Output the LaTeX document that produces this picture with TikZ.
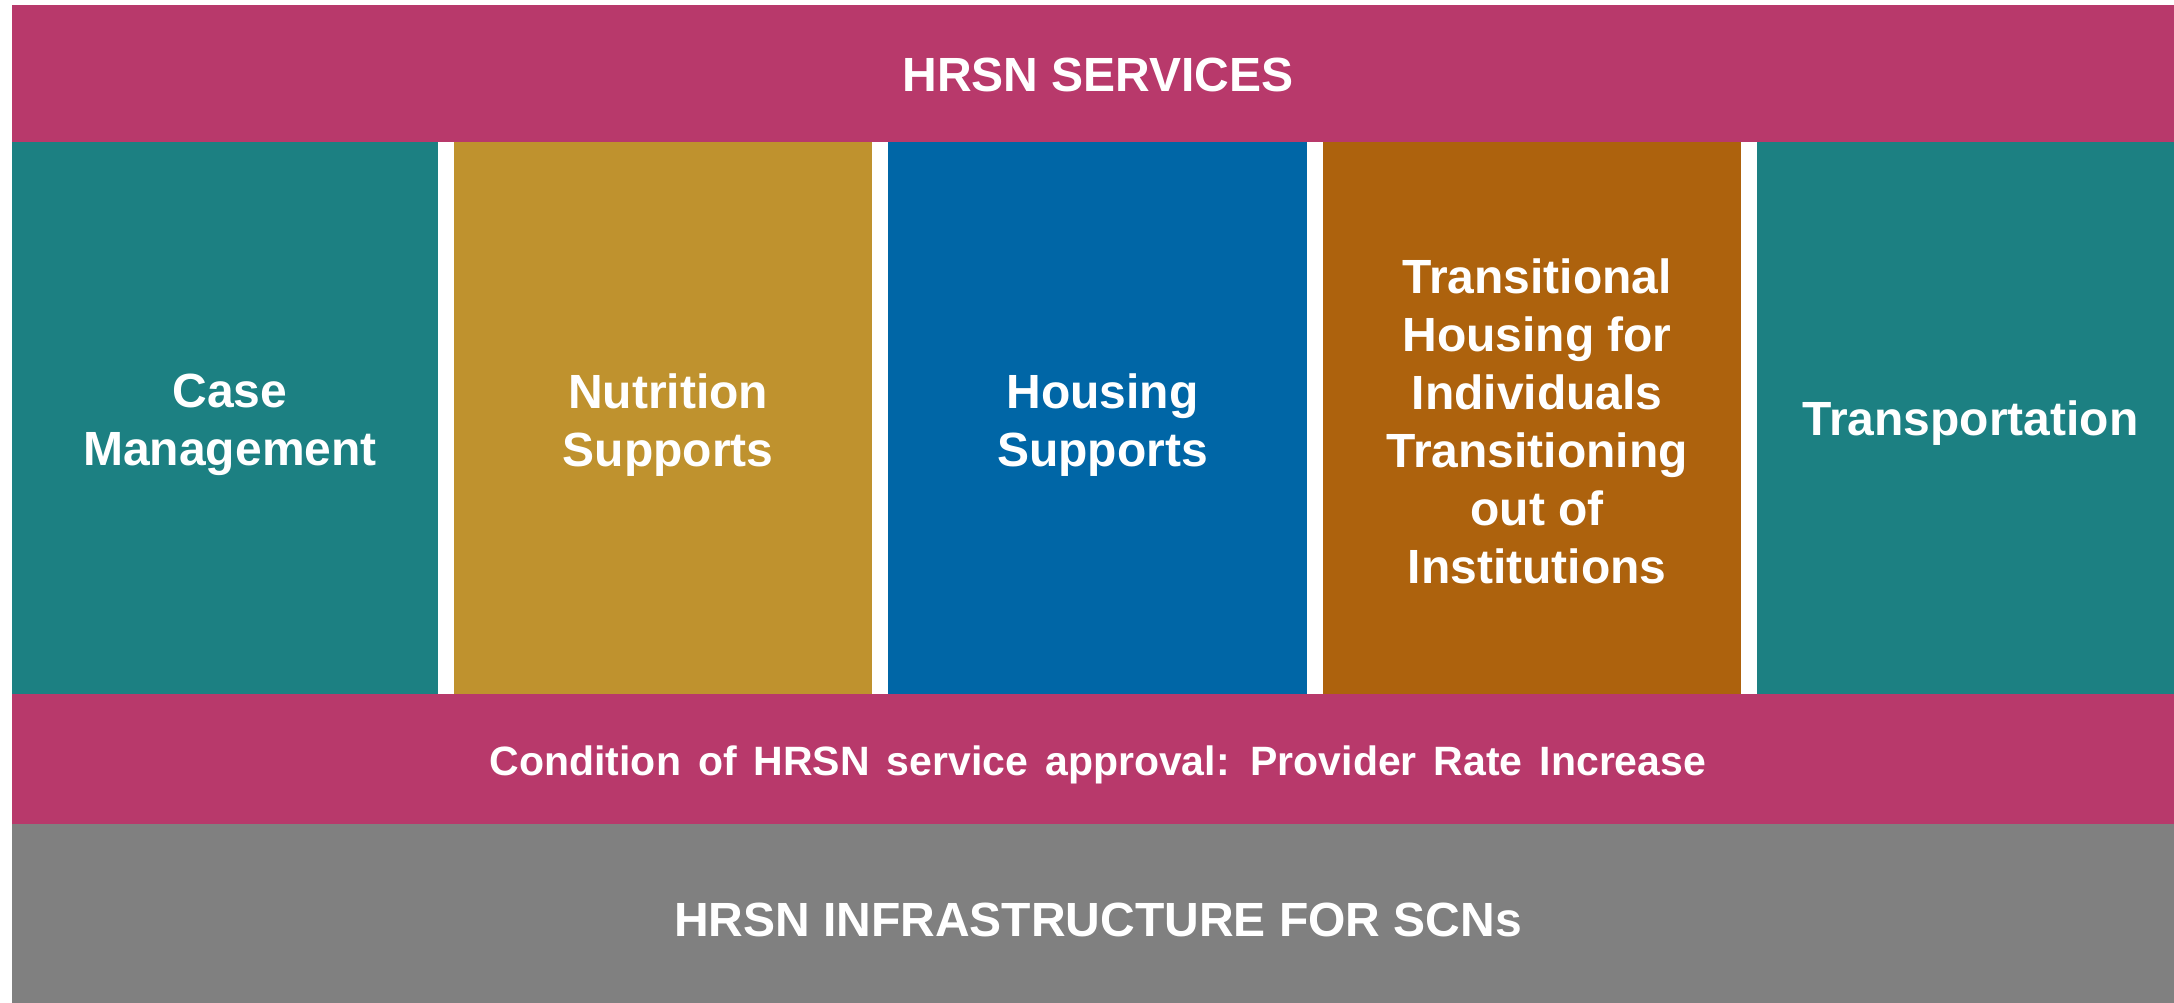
\documentclass[tikz,border=0pt]{standalone}
\usepackage{fontspec}
\setmainfont{Liberation Sans}
\definecolor{hpink}{HTML}{B8396B}
\definecolor{hteal}{HTML}{1C8082}
\definecolor{hgold}{HTML}{BF922E}
\definecolor{hblue}{HTML}{0066A6}
\definecolor{horange}{HTML}{AD620D}
\definecolor{hgray}{HTML}{808080}
\tikzset{
  band/.style={anchor=north west, inner sep=0pt, outer sep=0pt},
  colbox/.style={band, minimum height=552pt},
  lbl/.style={inner sep=0pt, xshift=5pt, text=white, font=\bfseries\fontsize{48}{58}\selectfont, align=center}
}
\begin{document}
\begin{tikzpicture}[x=1pt,y=-1pt]
\useasboundingbox (0,0) rectangle (2174,1003);
\fill[white] (0,0) rectangle (2174,1003);
\node[band, fill=hpink, minimum width=2162pt, minimum height=137pt] (top) at (12,5) {};
\node[colbox, fill=hteal, minimum width=426pt] (c1) at (12,142) {};
\node[colbox, fill=hgold, minimum width=418pt] (c2) at (454,142) {};
\node[colbox, fill=hblue, minimum width=419pt] (c3) at (888,142) {};
\node[colbox, fill=horange, minimum width=418pt] (c4) at (1323,142) {};
\node[colbox, fill=hteal, minimum width=417pt] (c5) at (1757,142) {};
\node[band, fill=hpink, minimum width=2162pt, minimum height=130pt] (mid) at (12,694) {};
\node[band, fill=hgray, minimum width=2162pt, minimum height=179pt] (bot) at (12,824) {};
\node[lbl, yshift=-1pt] (topt) at (top.center) {HRSN SERVICES};
\node[lbl, yshift=-7pt] (c1t) at (c1.center) {Case\\Management};
\node[lbl, yshift=-7pt] (c2t) at (c2.center) {Nutrition\\Supports};
\node[lbl, yshift=-7pt] (c3t) at (c3.center) {Housing\\Supports};
\node[lbl, yshift=-3pt] (c4t) at (c4.center) {Transitional\\Housing for\\Individuals\\Transitioning\\out of\\Institutions};
\node[lbl, yshift=-5pt] (c5t) at (c5.center) {Transportation};
\node[lbl, yshift=-6pt, font=\bfseries\fontsize{41}{48}\selectfont] (midt) at (mid.center) {\spaceskip=17pt Condition of HRSN service approval: Provider Rate Increase};
\node[lbl, yshift=-6pt] (bott) at (bot.center) {HRSN INFRASTRUCTURE FOR SCNs};
\end{tikzpicture}
\end{document}
